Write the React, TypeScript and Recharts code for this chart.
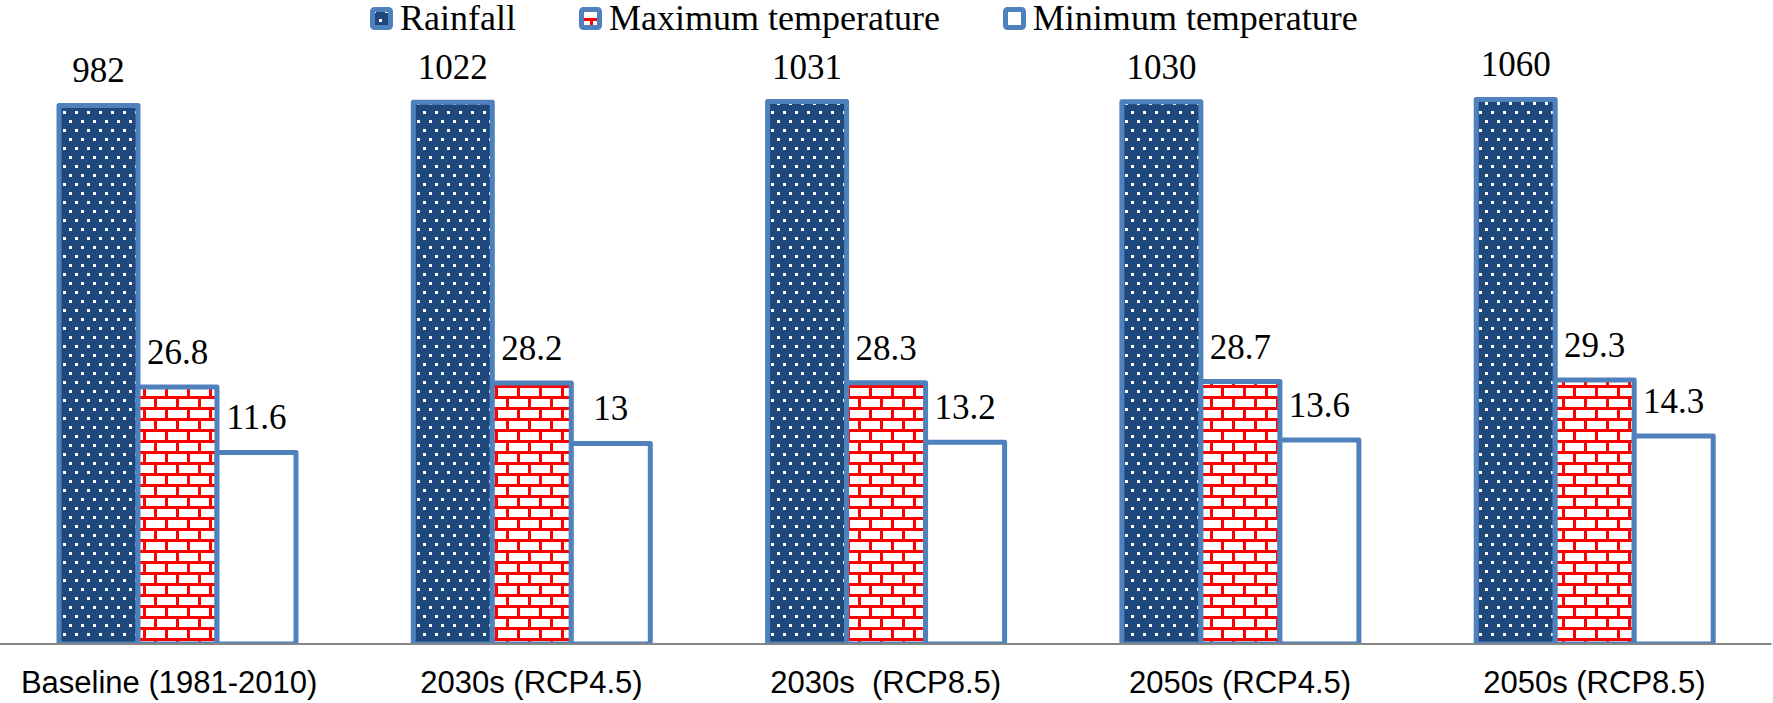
import React from 'react';
import { BarChart, Bar, XAxis, YAxis, LabelList, Legend } from 'recharts';

const categories = ['Baseline (1981-2010)', '2030s (RCP4.5)', '2030s  (RCP8.5)', '2050s (RCP4.5)', '2050s (RCP8.5)'];
const rainfall = [982, 1022, 1031, 1030, 1060];
const maxTemperature = [26.8, 28.2, 28.3, 28.7, 29.3];
const minTemperature = [11.6, 13, 13.2, 13.6, 14.3];
const seriesNames = ['Rainfall', 'Maximum temperature', 'Minimum temperature'];

const data = categories.map((c, i) => ({
  category: c,
  rainfall: rainfall[i],
  maxT: maxTemperature[i],
  minT: minTemperature[i],
}));

const BORDER = '#4F81BD';
const SERIF = '"Liberation Serif", "Times New Roman", serif';
const SANS = '"Liberation Sans", Arial, sans-serif';

const fills = ['url(#dotsPattern)', 'url(#brickPattern)', '#FFFFFF'];

const CategoryTick = (props: any) => {
  const { x, y, payload, index } = props;
  const shift = index === 0 ? -8 : 0;
  return (
    <text
      x={x + shift}
      y={y + 49}
      textAnchor="middle"
      fontFamily={SANS}
      fontSize={31}
      fill="#000"
      style={{ whiteSpace: 'pre' }}
    >
      {payload.value}
    </text>
  );
};

const LegendContent = () => (
  <div
    style={{
      display: 'flex',
      alignItems: 'center',
      gap: 63,
      fontFamily: SERIF,
      fontSize: 36,
      lineHeight: '36px',
      whiteSpace: 'nowrap',
      color: '#000',
    }}
  >
    {seriesNames.map((name, i) => (
      <div key={name} style={{ display: 'flex', alignItems: 'center', gap: 7 }}>
        <svg width={23} height={23} style={{ display: 'block' }}>
          <rect x={2.5} y={2.5} width={18} height={18} rx={2} fill={fills[i]} stroke={BORDER} strokeWidth={5} />
        </svg>
        <span>{name}</span>
      </div>
    ))}
  </div>
);

export default function App() {
  return (
    <div style={{ position: 'absolute', left: 0, top: 0, width: 1773, height: 703, background: '#fff' }}>
      <BarChart
        width={1773}
        height={703}
        data={data}
        margin={{ top: 14, right: 1.5, bottom: 0, left: 0 }}
        barGap={0}
        barSize={79}
      >
        <defs>
          <pattern id="dotsPattern" patternUnits="userSpaceOnUse" width={12} height={18}>
            <rect width={12} height={18} fill="#1F497D" />
            <rect x={3} y={3} width={3} height={3} fill="#FFFFFF" />
            <rect x={9} y={12} width={3} height={3} fill="#FFFFFF" />
          </pattern>
          <pattern id="brickPattern" patternUnits="userSpaceOnUse" width={22} height={22}>
            <rect width={22} height={22} fill="#FFFFFF" />
            <rect x={0} y={0} width={22} height={3} fill="#FF0000" />
            <rect x={0} y={11} width={22} height={3} fill="#FF0000" />
            <rect x={0} y={0} width={3} height={11} fill="#FF0000" />
            <rect x={11} y={11} width={3} height={11} fill="#FF0000" />
          </pattern>
        </defs>
        <Legend
          verticalAlign="middle"
          layout="horizontal"
          content={<LegendContent />}
          wrapperStyle={{ top: 0, left: 370, width: 'auto', height: 'auto' }}
        />
        <XAxis
          dataKey="category"
          height={59}
          tickSize={0}
          tickMargin={0}
          tickLine={false}
          axisLine={{ stroke: '#868686', strokeWidth: 2 }}
          tick={<CategoryTick />}
          interval={0}
        />
        <YAxis hide type="number" scale="log" domain={[1, 3162.2776]} allowDataOverflow />
        <Bar
          dataKey="rainfall"
          name={seriesNames[0]}
          fill="url(#dotsPattern)"
          stroke={BORDER}
          strokeWidth={5}
          strokeLinejoin="round"
          isAnimationActive={false}
        >
          <LabelList dataKey="rainfall" position="top" offset={23} fill="#000" fontFamily={SERIF} fontSize={35} />
        </Bar>
        <Bar
          dataKey="maxT"
          name={seriesNames[1]}
          fill="url(#brickPattern)"
          stroke={BORDER}
          strokeWidth={5}
          strokeLinejoin="round"
          isAnimationActive={false}
        >
          <LabelList dataKey="maxT" position="top" offset={23} fill="#000" fontFamily={SERIF} fontSize={35} />
        </Bar>
        <Bar
          dataKey="minT"
          name={seriesNames[2]}
          fill="#FFFFFF"
          stroke={BORDER}
          strokeWidth={5}
          strokeLinejoin="round"
          isAnimationActive={false}
        >
          <LabelList dataKey="minT" position="top" offset={23} fill="#000" fontFamily={SERIF} fontSize={35} />
        </Bar>
      </BarChart>
    </div>
  );
}
